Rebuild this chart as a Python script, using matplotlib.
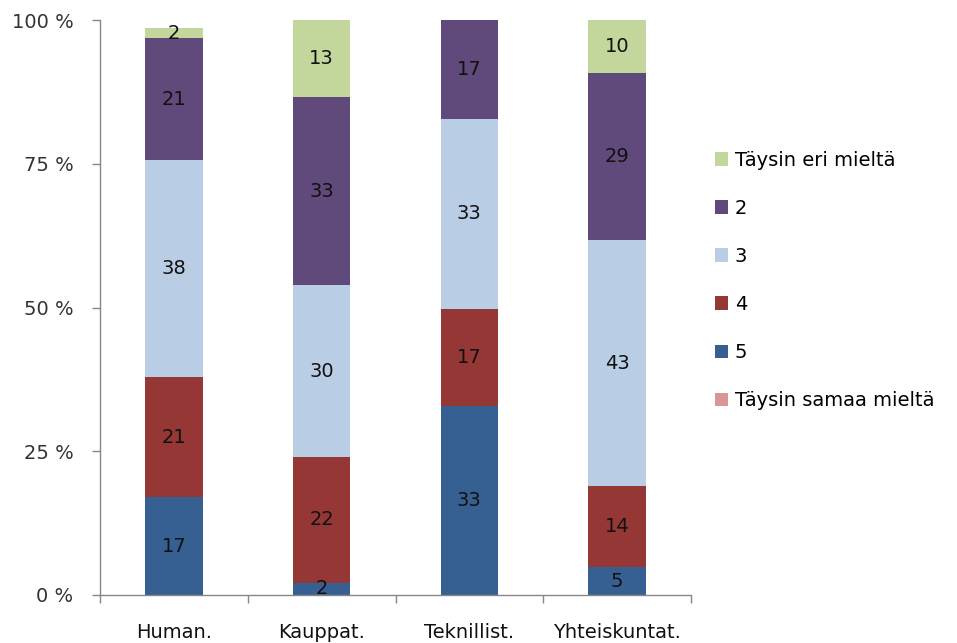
import matplotlib
matplotlib.use("Agg")
import matplotlib.pyplot as plt
import numpy as np
from matplotlib.ticker import FixedLocator

plt.rcParams['font.family'] = ['DejaVu Sans']

categories = ["Human.", "Kauppat.", "Teknillist.", "Yhteiskuntat."]
series_names = ["Täysin samaa mieltä", "5", "4", "3", "2", "Täysin eri mieltä"]
s_samaa = [0.0, 0.0, 0.0, 0.0]
s_5 = [17.0, 2.1, 32.9, 4.8]
s_4 = [20.9, 21.9, 16.9, 14.1]
s_3 = [37.7, 29.9, 33.0, 42.8]
s_2 = [21.2, 32.7, 17.2, 29.0]
s_eri = [1.8, 13.4, 0.0, 9.6]
y_ticks = [0, 25, 50, 75, 100]
y_tick_labels = ["0 %", "25 %", "50 %", "75 %", "100 %"]

colors = ["#D99694", "#376092", "#953735", "#B9CDE5", "#604A7B", "#C3D69B"]
series = [s_samaa, s_5, s_4, s_3, s_2, s_eri]

FS = 14

fig = plt.figure(figsize=(9.57, 6.43), dpi=100)
ax = fig.add_axes([100/957, 1 - 595/643, 591/957, 575/643])

x = np.arange(len(categories))
bottom = np.zeros(len(categories))
handles = []
for name, vals, col in zip(series_names, series, colors):
    vals = np.array(vals)
    top = np.minimum(bottom + vals, 100.0)
    h = top - bottom
    bars = ax.bar(x, h, 0.39, bottom=bottom, color=col, label=name, linewidth=0)
    labels = [f"{round(v):d}" if v > 0 else "" for v in vals]
    ax.bar_label(bars, labels=labels, label_type="center", fontsize=FS, color="#111111")
    handles.append(bars)
    bottom = bottom + h

ax.set_xlim(-0.5, len(categories) - 0.5)
ax.set_ylim(0, 100)
ax.set_yticks(y_ticks)
ax.set_yticklabels(y_tick_labels, fontsize=FS, color="#333333")
ax.set_xticks(x)
ax.set_xticklabels(categories, fontsize=FS, color="#111111")
ax.xaxis.set_minor_locator(FixedLocator(np.arange(len(categories) + 1) - 0.5))
ax.tick_params(axis="x", which="major", length=0, pad=20)
ax.tick_params(axis="x", which="minor", length=6, color="#868686", width=1)
ax.tick_params(axis="y", which="major", length=6, color="#868686", width=1, pad=13)

for sp in ["top", "right"]:
    ax.spines[sp].set_visible(False)
for sp in ["left", "bottom"]:
    ax.spines[sp].set_color("#868686")
    ax.spines[sp].set_linewidth(1)

leg = fig.legend(handles[::-1], series_names[::-1], loc="upper left",
                 bbox_to_anchor=(697/957, 1 - 133/643), frameon=False,
                 fontsize=FS, handlelength=0.7, handleheight=0.7,
                 handletextpad=0.35, labelspacing=1.5)

fig.savefig("out.png", dpi=100)
